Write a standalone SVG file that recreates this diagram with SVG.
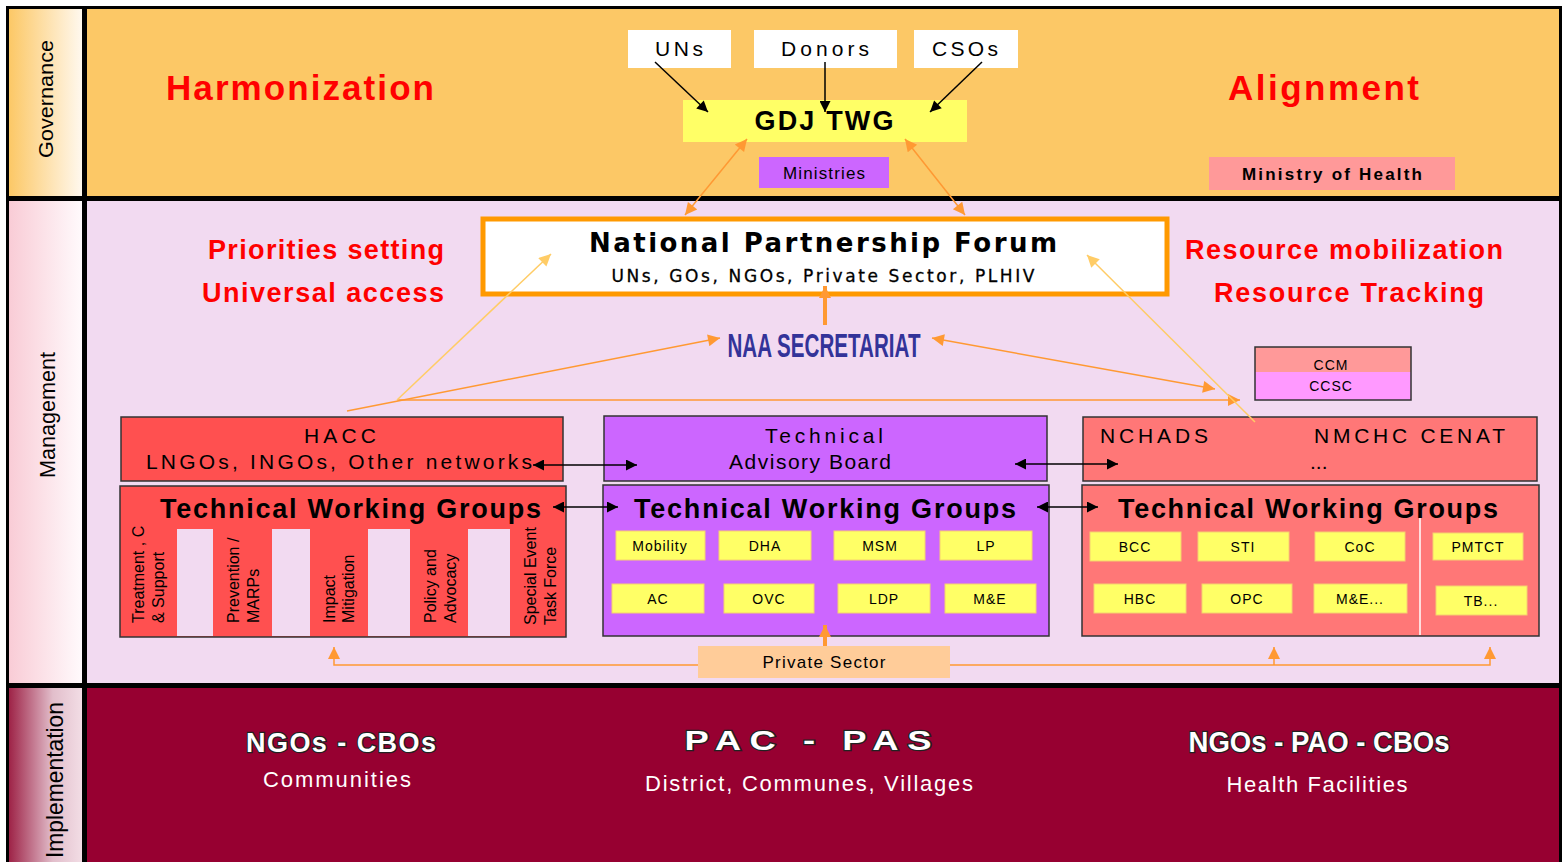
<svg xmlns="http://www.w3.org/2000/svg" width="1564" height="862" viewBox="0 0 1564 862">
<defs>
<linearGradient id="gGov" x1="0" y1="0" x2="1" y2="0"><stop offset="0" stop-color="#FCC866"/><stop offset="1" stop-color="#FFF8EE"/></linearGradient>
<linearGradient id="gMan" x1="0" y1="0" x2="1" y2="0"><stop offset="0" stop-color="#F9CCD6"/><stop offset="1" stop-color="#FFFAFC"/></linearGradient>
<linearGradient id="gImp" x1="0" y1="0" x2="1" y2="0"><stop offset="0" stop-color="#9E2347"/><stop offset="0.6" stop-color="#E2BECB"/><stop offset="1" stop-color="#F2DDE5"/></linearGradient>
<marker id="ab" viewBox="0 0 10 10" refX="10" refY="5" markerWidth="13" markerHeight="11" orient="auto-start-reverse" markerUnits="userSpaceOnUse"><path d="M0,0 L10,5 L0,10 z" fill="#000"/></marker>
<marker id="ao" viewBox="0 0 10 10" refX="10" refY="5" markerWidth="14" markerHeight="12" orient="auto-start-reverse" markerUnits="userSpaceOnUse"><path d="M0,0 L10,5 L0,10 z" fill="#FF9933"/></marker>
<marker id="al" viewBox="0 0 10 10" refX="10" refY="5" markerWidth="14" markerHeight="12" orient="auto-start-reverse" markerUnits="userSpaceOnUse"><path d="M0,0 L10,5 L0,10 z" fill="#FFCC66"/></marker>
</defs>
<style>
.t{font-family:"Liberation Sans",Arial,sans-serif;fill:#000}
.b{font-weight:bold}
.red{font-family:"Liberation Sans",Arial,sans-serif;font-weight:bold;fill:#FF0000}
.side{font-family:"Liberation Sans",Arial,sans-serif;fill:#000}
.box{stroke:#333;stroke-width:1.5}
.yl{fill:#FFFF66;stroke:#F5D070;stroke-width:1}
.yt{font-family:"Liberation Sans",Arial,sans-serif;font-size:14px;fill:#000;text-anchor:middle;letter-spacing:1px}
.rot{font-family:"Liberation Sans",Arial,sans-serif;font-size:16px;fill:#000}
.imp{font-family:"Liberation Sans",Arial,sans-serif;font-weight:bold;fill:#fff;stroke:#222;stroke-width:2.5;paint-order:stroke;text-anchor:middle}
.imps{font-family:"Liberation Sans",Arial,sans-serif;fill:#fff;text-anchor:middle;font-size:22px}
.lo{stroke:#FF9933;stroke-width:1.5;fill:none}
.ll{stroke:#FFCC66;stroke-width:1.5;fill:none}
.lb{stroke:#000;stroke-width:1.5;fill:none}
</style>
<rect x="0" y="0" width="1564" height="862" fill="#fff"/>
<g id="bands">
<rect x="6" y="6" width="1556" height="860" fill="#000"/>
<rect x="9" y="9" width="73" height="187" fill="url(#gGov)"/>
<rect x="87" y="9" width="1472" height="187" fill="#FCC866"/>
<rect x="9" y="201" width="73" height="482" fill="url(#gMan)"/>
<rect x="87" y="201" width="1472" height="482" fill="#F2DAF1"/>
<rect x="9" y="688" width="73" height="174" fill="url(#gImp)"/>
<rect x="87" y="688" width="1472" height="174" fill="#970031"/>
<text class="side" transform="translate(53,99) rotate(-90)" text-anchor="middle" font-size="21" textLength="118" lengthAdjust="spacingAndGlyphs">Governance</text>
<text class="side" transform="translate(55,415) rotate(-90)" text-anchor="middle" font-size="22" textLength="126" lengthAdjust="spacingAndGlyphs">Management</text>
<text class="side" transform="translate(63,780) rotate(-90)" text-anchor="middle" font-size="24" textLength="156" lengthAdjust="spacingAndGlyphs">Implementation</text>
</g>
<g id="gov-labels">
<text class="red" x="166" y="100" font-size="35" textLength="268" lengthAdjust="spacing">Harmonization</text>
<text class="red" x="1228" y="100" font-size="35" textLength="191" lengthAdjust="spacing">Alignment</text>
</g>
<g id="uns"><rect x="628" y="30" width="103" height="38" fill="#fff"/><text class="t" x="679" y="56" font-size="21" text-anchor="middle" textLength="48" lengthAdjust="spacing">UNs</text></g>
<g id="donors"><rect x="754" y="30" width="143" height="38" fill="#fff"/><text class="t" x="825" y="56" font-size="21" text-anchor="middle" textLength="88" lengthAdjust="spacing">Donors</text></g>
<g id="csos"><rect x="914" y="30" width="104" height="38" fill="#fff"/><text class="t" x="965" y="56" font-size="21" text-anchor="middle" textLength="66" lengthAdjust="spacing">CSOs</text></g>
<g id="gdj"><rect x="683" y="100" width="284" height="42" fill="#FFFF66"/><text class="t b" x="824" y="130" font-size="27" text-anchor="middle" textLength="139" lengthAdjust="spacing">GDJ TWG</text></g>
<g id="ministries"><rect x="759" y="157" width="130" height="31" fill="#CC66FF"/><text class="t" x="824" y="179" font-size="17" text-anchor="middle" textLength="82" lengthAdjust="spacing">Ministries</text></g>
<g id="moh"><rect x="1209" y="157" width="246" height="33" fill="#FF9999"/><text class="t b" x="1332" y="180" font-size="17" text-anchor="middle" textLength="180" lengthAdjust="spacing">Ministry of Health</text></g>
<g id="man-labels">
<text class="red" x="444" y="259" font-size="27" text-anchor="end" textLength="236" lengthAdjust="spacing">Priorities setting</text>
<text class="red" x="444" y="302" font-size="27" text-anchor="end" textLength="242" lengthAdjust="spacing">Universal access</text>
<text class="red" x="1185" y="259" font-size="27" textLength="318" lengthAdjust="spacing">Resource mobilization</text>
<text class="red" x="1214" y="302" font-size="27" textLength="270" lengthAdjust="spacing">Resource Tracking</text>
</g>
<g id="npf">
<rect x="483" y="219" width="684" height="75" fill="#fff" stroke="#FF9900" stroke-width="5"/>
<text x="823" y="252" font-family="DejaVu Sans,Verdana,sans-serif" font-weight="bold" font-size="26" text-anchor="middle" textLength="468" lengthAdjust="spacing">National Partnership Forum</text>
<text x="823" y="282" font-family="DejaVu Sans,Verdana,sans-serif" font-size="17" text-anchor="middle" textLength="423" lengthAdjust="spacing" stroke="#000" stroke-width="0.3">UNs, GOs, NGOs, Private Sector, PLHIV</text>
</g>
<g id="naa">
<text x="824" y="357" font-family="Liberation Sans Narrow,Liberation Sans,sans-serif" font-weight="bold" font-size="34" fill="#333399" text-anchor="middle" textLength="193" lengthAdjust="spacingAndGlyphs">NAA SECRETARIAT</text>
</g>
<g id="ccm">
<rect x="1255" y="347" width="156" height="25" fill="#FF9999"/>
<rect x="1255" y="372" width="156" height="28" fill="#FF99FF"/>
<rect x="1255" y="347" width="156" height="53" fill="none" stroke="#333" stroke-width="1.5"/>
<text class="t" x="1331" y="370" font-size="14" text-anchor="middle" letter-spacing="1">CCM</text>
<text class="t" x="1331" y="391" font-size="14" text-anchor="middle" letter-spacing="1">CCSC</text>
</g>
<g id="hacc">
<rect class="box" x="121" y="417" width="442" height="64" fill="#FF5050"/>
<text class="t" x="340" y="443" font-size="21" text-anchor="middle" textLength="72" lengthAdjust="spacing">HACC</text>
<text class="t" x="339" y="469" font-size="21" text-anchor="middle" textLength="386" lengthAdjust="spacing">LNGOs, INGOs, Other networks</text>
</g>
<g id="tab">
<rect class="box" x="604" y="416" width="443" height="65" fill="#CC66FF"/>
<text class="t" x="824" y="443" font-size="21" text-anchor="middle" textLength="118" lengthAdjust="spacing">Technical</text>
<text class="t" x="810" y="469" font-size="21" text-anchor="middle" textLength="162" lengthAdjust="spacing">Advisory Board</text>
</g>
<g id="nchads">
<rect class="box" x="1083" y="417" width="454" height="64" fill="#FF7777"/>
<text class="t" x="1100" y="443" font-size="21" textLength="108" lengthAdjust="spacing">NCHADS</text>
<text class="t" x="1314" y="443" font-size="21" textLength="191" lengthAdjust="spacing">NMCHC CENAT</text>
<text class="t" x="1310" y="469" font-size="21">...</text>
</g>
<g id="twg-left">
<rect class="box" x="120" y="486" width="446" height="151" fill="#FF5050"/>
<rect x="177" y="529" width="36" height="107" fill="#F2DAF1"/>
<rect x="272" y="529" width="38" height="107" fill="#F2DAF1"/>
<rect x="368" y="529" width="42" height="107" fill="#F2DAF1"/>
<rect x="468" y="529" width="42" height="107" fill="#F2DAF1"/>
<text class="t b" x="160" y="518" font-size="27" textLength="381" lengthAdjust="spacing">Technical Working Groups</text>
<text class="rot" transform="translate(144,623) rotate(-90)">Treatment , C</text>
<text class="rot" transform="translate(164,623) rotate(-90)">&amp; Support</text>
<text class="rot" transform="translate(239,623) rotate(-90)">Prevention /</text>
<text class="rot" transform="translate(259,623) rotate(-90)">MARPs</text>
<text class="rot" transform="translate(335,623) rotate(-90)">Impact</text>
<text class="rot" transform="translate(354,623) rotate(-90)">Mitigation</text>
<text class="rot" transform="translate(436,623) rotate(-90)">Policy and</text>
<text class="rot" transform="translate(456,623) rotate(-90)">Advocacy</text>
<text class="rot" transform="translate(536,625) rotate(-90)">Special Event</text>
<text class="rot" transform="translate(556,625) rotate(-90)">Task Force</text>
</g>
<g id="twg-mid">
<rect class="box" x="603" y="485" width="446" height="151" fill="#CC66FF"/>
<text class="t b" x="825" y="518" font-size="27" text-anchor="middle" textLength="382" lengthAdjust="spacing">Technical Working Groups</text>
<rect class="yl" x="616" y="531" width="89" height="29"/><text class="yt" x="660" y="551">Mobility</text>
<rect class="yl" x="719" y="531" width="92" height="29"/><text class="yt" x="765" y="551">DHA</text>
<rect class="yl" x="834" y="531" width="91" height="29"/><text class="yt" x="880" y="551">MSM</text>
<rect class="yl" x="940" y="531" width="92" height="29"/><text class="yt" x="986" y="551">LP</text>
<rect class="yl" x="612" y="584" width="92" height="29"/><text class="yt" x="658" y="604">AC</text>
<rect class="yl" x="724" y="584" width="90" height="29"/><text class="yt" x="769" y="604">OVC</text>
<rect class="yl" x="838" y="584" width="92" height="29"/><text class="yt" x="884" y="604">LDP</text>
<rect class="yl" x="945" y="584" width="91" height="29"/><text class="yt" x="990" y="604">M&amp;E</text>
</g>
<g id="twg-right">
<rect class="box" x="1082" y="485" width="457" height="151" fill="#FF7777"/>
<line x1="1420" y1="518" x2="1420" y2="635" stroke="#fff" stroke-width="1.5"/>
<text class="t b" x="1118" y="518" font-size="27" textLength="380" lengthAdjust="spacing">Technical Working Groups</text>
<rect class="yl" x="1090" y="532" width="91" height="29"/><text class="yt" x="1135" y="552">BCC</text>
<rect class="yl" x="1198" y="532" width="91" height="29"/><text class="yt" x="1243" y="552">STI</text>
<rect class="yl" x="1315" y="532" width="90" height="29"/><text class="yt" x="1360" y="552">CoC</text>
<rect class="yl" x="1433" y="533" width="90" height="27"/><text class="yt" x="1478" y="552">PMTCT</text>
<rect class="yl" x="1094" y="584" width="92" height="29"/><text class="yt" x="1140" y="604">HBC</text>
<rect class="yl" x="1202" y="584" width="90" height="29"/><text class="yt" x="1247" y="604">OPC</text>
<rect class="yl" x="1314" y="584" width="93" height="29"/><text class="yt" x="1360" y="604">M&amp;E...</text>
<rect class="yl" x="1436" y="586" width="91" height="29"/><text class="yt" x="1481" y="606">TB...</text>
</g>
<g id="private">
<rect x="698" y="646" width="252" height="32" fill="#FFCC99"/>
<text class="t" x="824" y="668" font-size="17" text-anchor="middle" textLength="123" lengthAdjust="spacing">Private Sector</text>
</g>
<g id="impl-left">
<text class="imp" x="341" y="752" font-size="27" textLength="190" lengthAdjust="spacing">NGOs - CBOs</text>
<text class="imps" x="337" y="787" textLength="148" lengthAdjust="spacing">Communities</text>
</g>
<g id="impl-mid">
<text class="imp" transform="translate(808,750) scale(1.3,1)" x="0" y="0" font-size="28" textLength="190" lengthAdjust="spacing">PAC - PAS</text>
<text class="imps" x="809" y="791" textLength="328" lengthAdjust="spacing">District, Communes, Villages</text>
</g>
<g id="impl-right">
<text class="imp" x="1319" y="752" font-size="29" textLength="261" lengthAdjust="spacingAndGlyphs" font-family="Liberation Sans Narrow,Liberation Sans,sans-serif">NGOs - PAO - CBOs</text>
<text class="imps" x="1317" y="792" textLength="181" lengthAdjust="spacing">Health Facilities</text>
</g>
<g id="connectors">
<line class="lb" x1="655" y1="62" x2="708" y2="112" marker-end="url(#ab)"/>
<line class="lb" x1="825" y1="62" x2="825" y2="112" marker-end="url(#ab)"/>
<line class="lb" x1="982" y1="62" x2="930" y2="112" marker-end="url(#ab)"/>
<line class="lo" x1="747" y1="139" x2="685" y2="215" marker-start="url(#ao)" marker-end="url(#ao)"/>
<line class="lo" x1="905" y1="139" x2="965" y2="215" marker-start="url(#ao)" marker-end="url(#ao)"/>
<line x1="825" y1="325" x2="825" y2="286" stroke="#FF9933" stroke-width="4" marker-end="url(#ao)"/>
<line class="lo" x1="347" y1="411" x2="720" y2="338" marker-end="url(#ao)"/>
<line class="lo" x1="932" y1="338" x2="1215" y2="389" marker-start="url(#ao)" marker-end="url(#ao)"/>
<line class="lo" x1="397" y1="400" x2="1240" y2="400" marker-end="url(#ao)"/>
<line class="ll" x1="397" y1="400" x2="551" y2="254" marker-end="url(#al)"/>
<line class="ll" x1="1255" y1="422" x2="1087" y2="255" marker-end="url(#al)"/>
<line class="lb" x1="533" y1="465" x2="637" y2="465" marker-start="url(#ab)" marker-end="url(#ab)"/>
<line class="lb" x1="1015" y1="464" x2="1118" y2="464" marker-start="url(#ab)" marker-end="url(#ab)"/>
<line class="lb" x1="553" y1="507" x2="618" y2="507" marker-start="url(#ab)" marker-end="url(#ab)"/>
<line class="lb" x1="1037" y1="507" x2="1098" y2="507" marker-start="url(#ab)" marker-end="url(#ab)"/>
<line x1="825" y1="646" x2="825" y2="625" stroke="#FF9933" stroke-width="4" marker-end="url(#ao)"/>
<polyline class="lo" points="698,665 334,665 334,647" marker-end="url(#ao)"/>
<polyline class="lo" points="950,665 1490,665 1490,647" marker-end="url(#ao)"/>
<line class="lo" x1="1274" y1="665" x2="1274" y2="647" marker-end="url(#ao)"/>
</g>
</svg>
